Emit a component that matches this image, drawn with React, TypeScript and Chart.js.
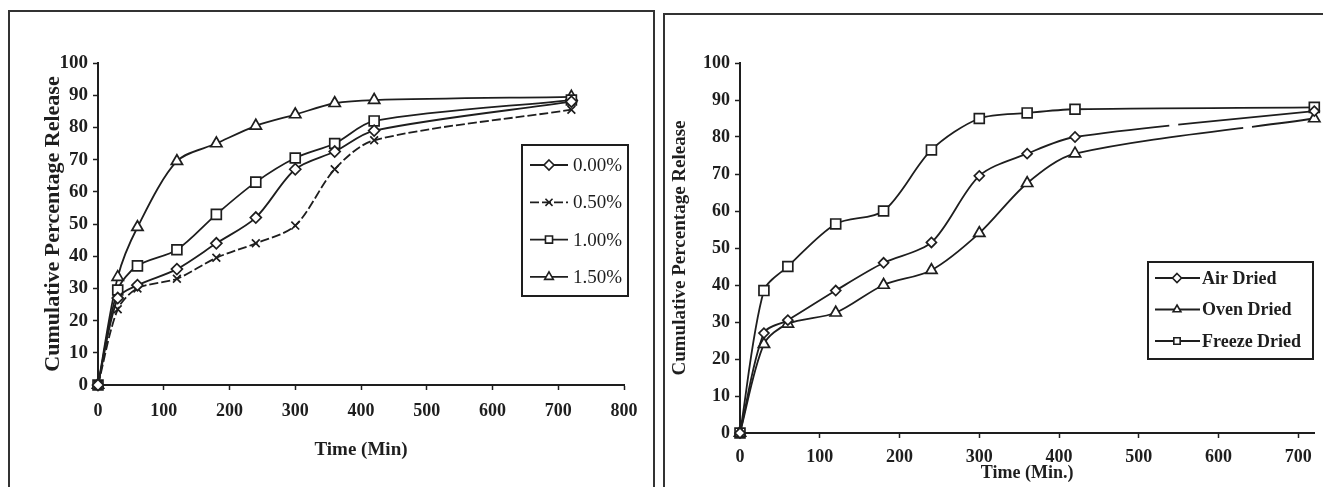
import React, { useEffect, useRef } from 'react';
import { Chart, registerables } from 'chart.js';

Chart.register(...registerables);

// ---------- data ----------
const times = [0, 30, 60, 120, 180, 240, 300, 360, 420, 720];

const concLabels = ['0.00%', '0.50%', '1.00%', '1.50%'];
const conc000 = [0, 27, 31, 36, 44, 52, 67, 72.5, 79, 88];
const conc050 = [0, 23.5, 30, 33, 39.5, 44, 49.5, 67, 76, 85.5];
const conc100 = [0, 29.5, 37, 42, 53, 63, 70.5, 75, 82, 88.5];
const conc150 = [0, 33.5, 49, 69.5, 75, 80.5, 84, 87.5, 88.5, 89.5];

const dryLabels = ['Air Dried', 'Oven Dried', 'Freeze Dried'];
const airDried = [0, 27, 30.5, 38.5, 46, 51.5, 69.5, 75.5, 80, 87];
const ovenDried = [0, 24, 29.5, 32.5, 40, 44, 54, 67.5, 75.5, 85];
const freezeDried = [0, 38.5, 45, 56.5, 60, 76.5, 85, 86.5, 87.5, 88];

const leftXTicks = [0, 100, 200, 300, 400, 500, 600, 700, 800];
const rightXTicks = [0, 100, 200, 300, 400, 500, 600, 700];
const yTicks = [0, 10, 20, 30, 40, 50, 60, 70, 80, 90, 100];

const yTitle = 'Cumulative Percentage Release';
const leftXTitle = 'Time (Min)';
const rightXTitle = 'Time (Min.)';

// ---------- styles ----------
const INK = '#1e1e1e';
const SERIF = '"Liberation Serif", "Times New Roman", Times, serif';

function pts(vals: number[]) {
  return times.map((t, i) => ({ x: t, y: vals[i] }));
}

function drawMarker(ctx: CanvasRenderingContext2D, style: string, x: number, y: number, r: number) {
  ctx.beginPath();
  if (style === 'rectRot') {
    ctx.moveTo(x, y - r);
    ctx.lineTo(x + r, y);
    ctx.lineTo(x, y + r);
    ctx.lineTo(x - r, y);
    ctx.closePath();
    ctx.fill();
    ctx.stroke();
  } else if (style === 'rect') {
    const s = r * Math.SQRT1_2;
    ctx.rect(x - s, y - s, 2 * s, 2 * s);
    ctx.fill();
    ctx.stroke();
  } else if (style === 'triangle') {
    for (let k = 0; k < 3; k++) {
      const a = -Math.PI / 2 + (k * 2 * Math.PI) / 3;
      const px = x + Math.cos(a) * r;
      const py = y + Math.sin(a) * r;
      if (k === 0) ctx.moveTo(px, py);
      else ctx.lineTo(px, py);
    }
    ctx.closePath();
    ctx.fill();
    ctx.stroke();
  } else if (style === 'crossRot') {
    const s = r * Math.SQRT1_2;
    ctx.moveTo(x - s, y - s);
    ctx.lineTo(x + s, y + s);
    ctx.moveTo(x + s, y - s);
    ctx.lineTo(x - s, y + s);
    ctx.stroke();
  }
}

type LegendCfg = {
  box: [number, number, number, number];
  y0: number;
  dy: number;
  lineX1: number;
  lineX2: number;
  markX: number;
  textX: number;
  font: string;
  markR: number;
};

function makeLegend(cfg: LegendCfg) {
  return {
    id: 'boxLegend',
    afterDatasetsDraw(chart: any) {
      const ctx: CanvasRenderingContext2D = chart.ctx;
      ctx.save();
      const [bx, by, bw, bh] = cfg.box;
      ctx.fillStyle = '#fff';
      ctx.fillRect(bx, by, bw, bh);
      ctx.strokeStyle = INK;
      ctx.lineWidth = 2;
      ctx.strokeRect(bx, by, bw, bh);
      chart.data.datasets.forEach((ds: any, i: number) => {
        const y = cfg.y0 + i * cfg.dy;
        ctx.strokeStyle = INK;
        ctx.lineWidth = 1.8;
        ctx.setLineDash(ds.borderDash || []);
        ctx.beginPath();
        ctx.moveTo(cfg.lineX1, y);
        ctx.lineTo(cfg.lineX2, y);
        ctx.stroke();
        ctx.setLineDash([]);
        ctx.fillStyle = '#fff';
        ctx.lineWidth = 1.6;
        drawMarker(ctx, ds.pointStyle, cfg.markX, y, cfg.markR);
        ctx.fillStyle = INK;
        ctx.font = cfg.font;
        ctx.textAlign = 'left';
        ctx.textBaseline = 'middle';
        ctx.fillText(ds.label, cfg.textX, y + 1);
      });
      ctx.restore();
    },
  };
}

type AxisOpts = {
  xMax: number;
  xTicks: number[];
  xH: number;
  yW: number;
  xTickSize: number;
  yTickSize: number;
  xPad: number;
  yPad: number;
  xTitle: string;
  xTitleSize: number;
  xTitlePad: number;
  yTitleSize: number;
  yTitlePad: number;
};

function makeScales(o: AxisOpts) {
  const grid = {
    display: true,
    drawOnChartArea: false,
    drawTicks: true,
    tickLength: 5,
    tickColor: INK,
    tickWidth: 1.5,
  };
  const border = { display: true, color: INK, width: 2 };
  return {
    x: {
      type: 'linear',
      min: 0,
      max: o.xMax,
      afterBuildTicks: (s: any) => {
        s.ticks = o.xTicks.map((v) => ({ value: v }));
      },
      afterFit: (s: any) => {
        s.height = o.xH;
      },
      grid,
      border,
      ticks: {
        color: INK,
        font: { family: SERIF, size: o.xTickSize, weight: 'bold' },
        padding: o.xPad,
        maxRotation: 0,
        autoSkip: false,
      },
      title: {
        display: true,
        text: o.xTitle,
        color: INK,
        font: { family: SERIF, size: o.xTitleSize, weight: 'bold' },
        padding: { top: 0, bottom: o.xTitlePad },
      },
    },
    y: {
      type: 'linear',
      min: 0,
      max: 100,
      afterBuildTicks: (s: any) => {
        s.ticks = yTicks.map((v) => ({ value: v }));
      },
      afterFit: (s: any) => {
        s.width = o.yW;
      },
      grid,
      border,
      ticks: {
        color: INK,
        font: { family: SERIF, size: o.yTickSize, weight: 'bold' },
        padding: o.yPad,
        autoSkip: false,
      },
      title: {
        display: true,
        text: yTitle,
        color: INK,
        font: { family: SERIF, size: o.yTitleSize, weight: 'bold' },
        padding: { top: o.yTitlePad, bottom: 0 },
      },
    },
  };
}

function ds(label: string, vals: number[], pointStyle: string, r: number, extra: any = {}) {
  return {
    label,
    data: pts(vals),
    borderColor: INK,
    borderWidth: 1.8,
    backgroundColor: '#fff',
    pointStyle,
    pointRadius: r,
    pointBorderWidth: 1.7,
    pointBackgroundColor: '#fff',
    pointBorderColor: INK,
    tension: 0.3,
    clip: false,
    ...extra,
  };
}

function leftConfig(): any {
  return {
    type: 'line',
    data: {
      datasets: [
        ds(concLabels[0], conc000, 'rectRot', 5.5),
        ds(concLabels[1], conc050, 'crossRot', 5.5, { borderDash: [9, 3] }),
        ds(concLabels[2], conc100, 'rect', 7),
        ds(concLabels[3], conc150, 'triangle', 6.5),
      ],
    },
    options: {
      responsive: false,
      animation: false,
      layout: { padding: { top: 51, right: 26, left: 0, bottom: 0 } },
      plugins: { legend: { display: false }, tooltip: { enabled: false } },
      scales: makeScales({
        xMax: 800,
        xTicks: leftXTicks,
        xH: 97,
        yW: 88,
        xTickSize: 18,
        yTickSize: 19,
        xPad: 11,
        yPad: 5,
        xTitle: leftXTitle,
        xTitleSize: 19,
        xTitlePad: 21,
        yTitleSize: 22,
        yTitlePad: 30,
      }),
    },
    plugins: [
      makeLegend({
        box: [512, 133, 106, 151],
        y0: 153,
        dy: 37.3,
        lineX1: 520,
        lineX2: 558,
        markX: 539,
        textX: 563,
        font: `19px ${SERIF}`,
        markR: 5,
      }),
    ],
  };
}

function rightConfig(): any {
  const gap = (pattern: number[]) => ({
    segment: { borderDash: (c: any) => (c.p0DataIndex === 8 ? pattern : undefined) },
  });
  return {
    type: 'line',
    data: {
      datasets: [
        ds(dryLabels[0], airDried, 'rectRot', 5, gap([95, 9, 200, 0])),
        ds(dryLabels[1], ovenDried, 'triangle', 6.5, gap([170, 9, 200, 0])),
        ds(dryLabels[2], freezeDried, 'rect', 7),
      ],
    },
    options: {
      responsive: false,
      animation: false,
      layout: { padding: { top: 47, right: 8, left: 0, bottom: 0 } },
      plugins: { legend: { display: false }, tooltip: { enabled: false } },
      scales: makeScales({
        xMax: 720,
        xTicks: rightXTicks,
        xH: 54,
        yW: 72,
        xTickSize: 18,
        yTickSize: 18,
        xPad: 9,
        yPad: 5,
        xTitle: rightXTitle,
        xTitleSize: 18,
        xTitlePad: 3,
        yTitleSize: 19,
        yTitlePad: 1,
      }),
    },
    plugins: [
      makeLegend({
        box: [480, 246, 165, 97],
        y0: 262,
        dy: 31.5,
        lineX1: 487,
        lineX2: 532,
        markX: 509,
        textX: 534,
        font: `bold 18px ${SERIF}`,
        markR: 4.5,
      }),
    ],
  };
}

function ChartCanvas(props: { make: () => any; left: number; top: number; width: number; height: number }) {
  const ref = useRef<HTMLCanvasElement>(null);
  useEffect(() => {
    const chart = new Chart(ref.current as HTMLCanvasElement, props.make());
    return () => chart.destroy();
  }, []);
  return (
    <canvas
      ref={ref}
      width={props.width}
      height={props.height}
      style={{
        position: 'absolute',
        left: props.left,
        top: props.top,
        width: props.width,
        height: props.height,
      }}
    />
  );
}

export default function App() {
  return (
    <div
      style={{
        position: 'absolute',
        left: 0,
        top: 0,
        width: 1323,
        height: 487,
        overflow: 'hidden',
        background: '#fff',
      }}
    >
      <div
        style={{
          position: 'absolute',
          left: 8,
          top: 10,
          width: 647,
          height: 500,
          border: '2px solid #333',
          boxSizing: 'border-box',
        }}
      />
      <div
        style={{
          position: 'absolute',
          left: 663,
          top: 13,
          width: 700,
          height: 500,
          border: '2px solid #333',
          boxSizing: 'border-box',
        }}
      />
      <ChartCanvas make={leftConfig} left={10} top={12} width={640} height={470} />
      <ChartCanvas make={rightConfig} left={668} top={16} width={655} height={471} />
    </div>
  );
}
